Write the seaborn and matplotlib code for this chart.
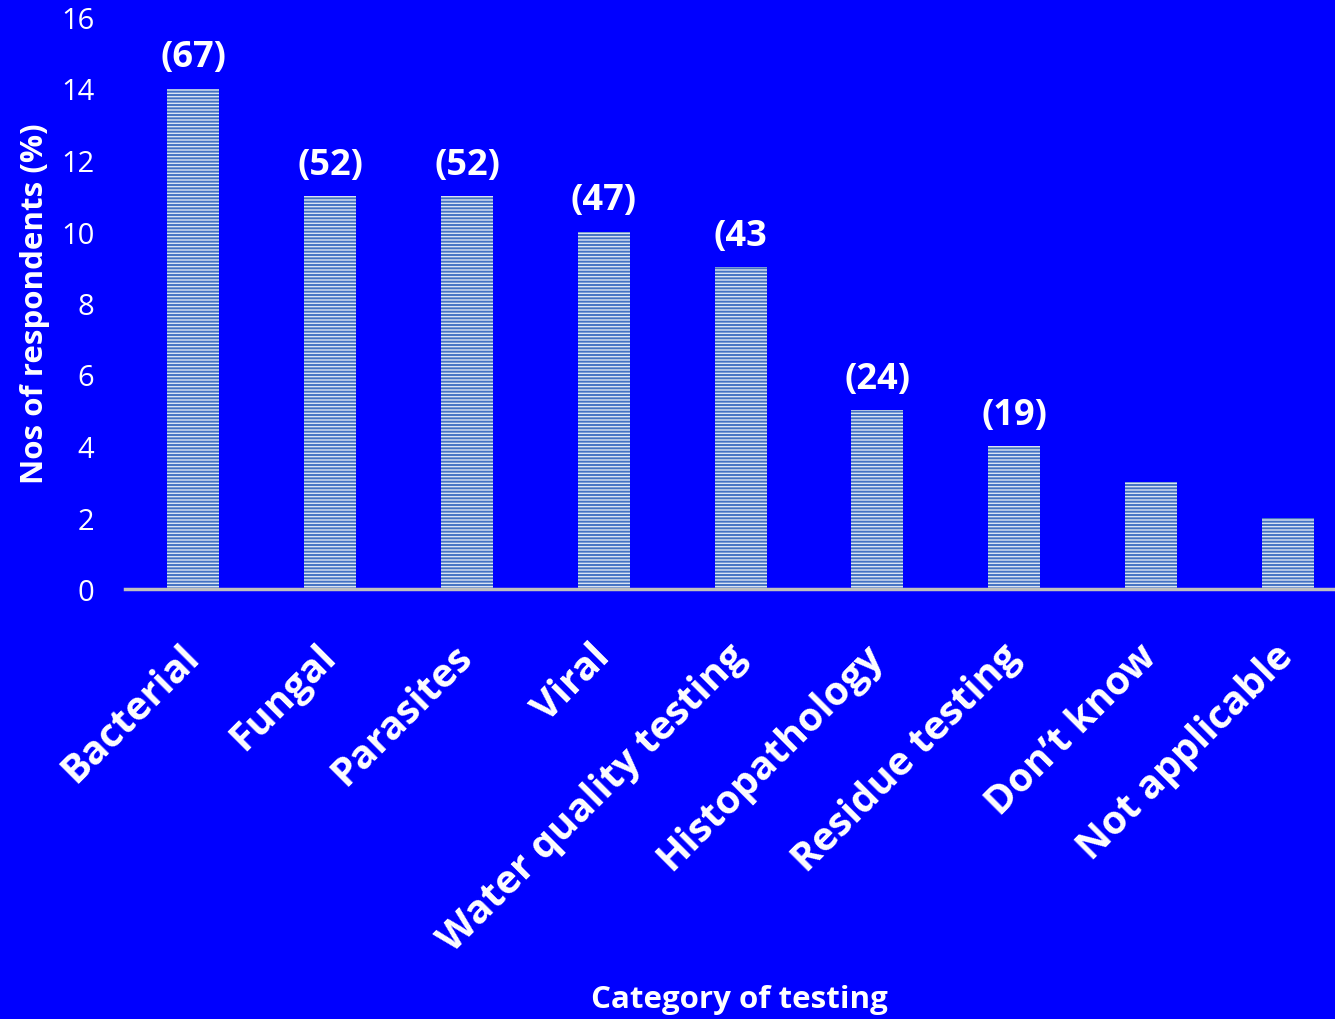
import matplotlib
matplotlib.use("Agg")
import matplotlib.pyplot as plt
import seaborn as sns
import pandas as pd

categories = ["Bacterial", "Fungal", "Parasites", "Viral", "Water quality testing",
              "Histopathology", "Residue testing", "Don\u2019t know", "Not applicable"]
values = [14, 11, 11, 10, 9, 5, 4, 3, 2]
bar_labels = ["(67)", "(52)", "(52)", "(47)", "(43", "(24)", "(19)", "", ""]
y_ticks = [0, 2, 4, 6, 8, 10, 12, 14, 16]

sns.set_style("white")
plt.rcParams['font.family'] = ['Open Sans', 'DejaVu Sans']
plt.rcParams['hatch.linewidth'] = 1.4

BG = "#0000FF"
df = pd.DataFrame({"cat": categories, "val": values})

fig = plt.figure(figsize=(13.35, 10.2), dpi=100, facecolor=BG)
ax = fig.add_axes([125/1335, 1-590/1020, 1-125/1335, (590-18)/1020])
ax.set_facecolor(BG)

sns.barplot(data=df, x="cat", y="val", ax=ax, color="#DAE3F3", width=0.38,
            saturation=1)
for p in ax.patches:
    p.set_hatch("-----")
    p.set_edgecolor("#4472C4")
    p.set_linewidth(0)
    p.set_facecolor("#DAE3F3")

for p, lab in zip(ax.patches, bar_labels):
    if lab:
        ax.annotate(lab, (p.get_x() + p.get_width()/2, p.get_height()),
                    xytext=(0, 16), textcoords="offset points",
                    ha="center", va="baseline", color="white",
                    fontsize=26, fontweight="bold")

ax.set_ylim(0, 16)
ax.set_xlim(-0.5, 8.345)
ax.set_yticks(y_ticks)
ax.set_yticklabels([str(t) for t in y_ticks], color="white", fontsize=21)
ax.tick_params(axis="y", length=0, pad=22)
ax.tick_params(axis="x", length=0, pad=44)
ax.set_xticks(range(len(categories)))
ax.set_xticklabels(categories, rotation=45, ha="right", va="center",
                   rotation_mode="anchor", color="white", fontsize=28.5,
                   fontweight="bold")

for s in ["top", "right", "left"]:
    ax.spines[s].set_visible(False)
ax.spines["bottom"].set_color("#BFBFBF")
ax.spines["bottom"].set_linewidth(2.5)

ax.set_xlabel("Category of testing", color="white", fontsize=22.5, fontweight="bold")
ax.xaxis.set_label_coords(0.508, -0.717)
ax.xaxis.label.set_va("center")
ax.set_ylabel("Nos of respondents (%)", color="white", fontsize=22.5, fontweight="bold")
ax.yaxis.set_label_coords(-0.074, 0.5)
ax.yaxis.label.set_va("center")

fig.savefig("out.png", dpi=100, facecolor=BG)
